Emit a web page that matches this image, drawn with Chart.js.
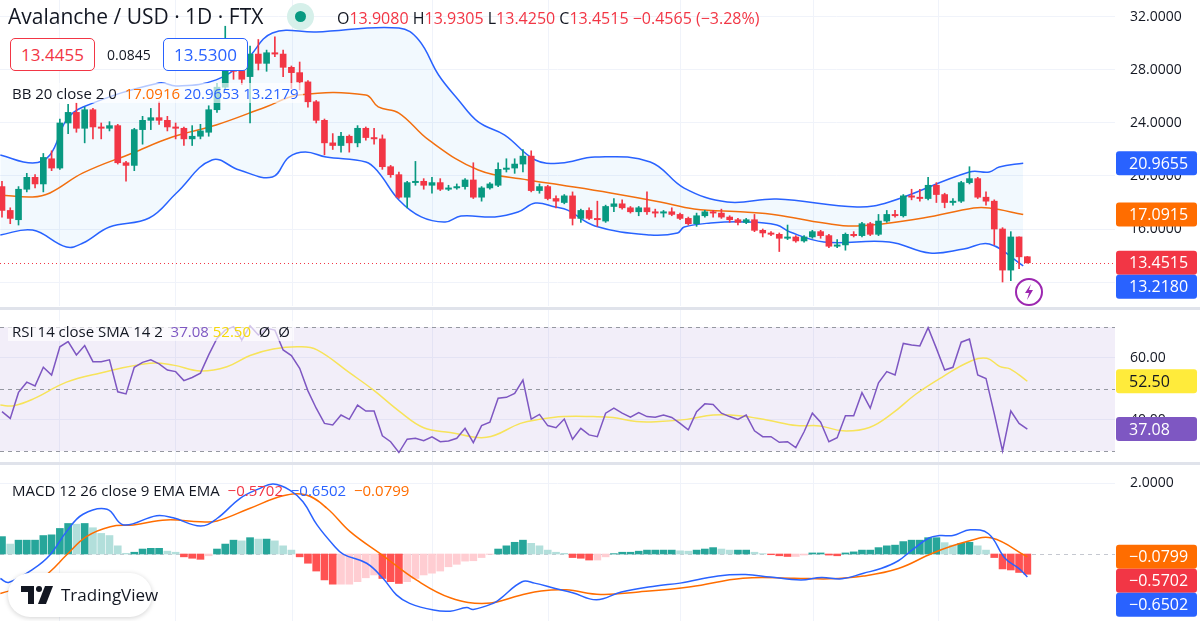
<!DOCTYPE html>
<html>
<head>
<meta charset="utf-8">
<script src="https://cdn.jsdelivr.net/npm/chart.js@4.4.0/dist/chart.umd.min.js"></script>
<style>
  body { margin: 0; width: 1200px; height: 621px; overflow: hidden; background: #fff; font-family: "Open Sans", sans-serif; color: #131722; }
  .pane { position: absolute; left: 0; width: 1200px; }
  .sep { position: absolute; left: 0; width: 1200px; height: 3px; background: #e0e3eb; }
  .legend { position: absolute; font-size: 15px; white-space: nowrap; background: rgba(255,255,255,0.65); padding: 0 4px; }
  .box { position: absolute; height: 31px; line-height: 31px; border-radius: 5px; font-size: 17px; text-align: center; background: #fff; }
</style>
</head>
<body>
<div class="pane" style="top:0;height:306px"><canvas id="price"></canvas></div>
<div class="sep" style="top:307px"></div>
<div class="pane" style="top:310px;height:152px"><canvas id="rsi"></canvas></div>
<div class="sep" style="top:462px"></div>
<div class="pane" style="top:465px;height:156px"><canvas id="macd"></canvas></div>

<div style="position:absolute;left:8px;top:2px;font-size:21px;">Avalanche / USD · 1D · FTX</div>
<div style="position:absolute;left:287px;top:3px;width:27px;height:27px;border-radius:50%;background:#d6f0ea;"></div>
<div style="position:absolute;left:295px;top:11px;width:11px;height:11px;border-radius:50%;background:#089981;"></div>
<div style="position:absolute;left:337px;top:7px;font-size:16px;">O<span style="color:#f23645">13.9080</span> H<span style="color:#f23645">13.9305</span> L<span style="color:#f23645">13.4250</span> C<span style="color:#f23645">13.4515</span> <span style="color:#f23645">−0.4565 (−3.28%)</span></div>
<div class="box" style="left:10px;top:38px;width:83px;border:1px solid #f23645;color:#f23645">13.4455</div>
<div style="position:absolute;left:107px;top:45px;font-size:14px;">0.0845</div>
<div class="box" style="left:163px;top:38px;width:83px;border:1px solid #2962ff;color:#2962ff">13.5300</div>
<div class="legend" style="left:8px;top:83px;">BB 20 close 2 0 &nbsp;<span style="color:#ff6d00">17.0916</span> <span style="color:#2962ff">20.9653</span> <span style="color:#2962ff">13.2179</span></div>
<div class="legend" style="left:8px;top:321px;">RSI 14 close SMA 14 2 &nbsp;<span style="color:#7e57c2">37.08</span> <span style="color:#f5d90a">52.50</span> &nbsp;Ø&nbsp; Ø</div>
<div class="legend" style="left:8px;top:480px;background:none">MACD 12 26 close 9 EMA EMA &nbsp;<span style="color:#f23645">−0.5702</span> &nbsp;<span style="color:#2962ff">−0.6502</span> &nbsp;<span style="color:#ff6d00">−0.0799</span></div>
<div style="position:absolute;left:1015px;top:278px;width:24px;height:24px;border:2px solid #9c27b0;border-radius:50%;">
  <svg width="24" height="24" viewBox="0 0 24 24"><path d="M14 4 L8 13 H12 L10 20 L16 10 H12 Z" fill="#9c27b0"/></svg>
</div>
<div style="position:absolute;left:8px;top:573px;width:144px;height:44px;border-radius:22px;background:#fff;box-shadow:0 1px 5px rgba(0,0,0,0.18);">
  <svg style="position:absolute;left:13px;top:13px" width="34" height="18" viewBox="0 0 34 18"><path d="M0 0 H13 V18 H7 V6 H0 Z" fill="#131722"/><circle cx="18" cy="3" r="3" fill="#131722"/><path d="M24 0 H32 L25 18 H17 Z" fill="#131722"/></svg>
  <span style="position:absolute;left:53px;top:10px;font-size:17px;">TradingView</span>
</div>

<script>
// candles, one per day (index 0..124)
const opens = [
  19.2,17.4,16.7,19.0,19.9,19.4,21.3,20.6,24.0,24.8,
  23.6,25.0,23.7,23.6,23.8,21.0,20.8,23.5,24.2,24.4,
  24.2,23.7,23.6,22.8,23.0,23.3,25.0,26.7,28.3,28.0,
  27.5,29.2,28.5,29.3,29.2,28.2,27.8,27.1,25.6,24.2,
  22.5,22.3,23.0,22.5,23.6,22.9,22.8,20.7,20.1,18.4,
  19.5,19.6,19.3,19.5,19.0,19.1,19.2,19.7,18.4,19.1,
  19.3,20.5,20.6,20.9,21.5,18.9,19.2,18.3,18.0,18.5,
  16.8,17.4,16.8,16.6,17.7,17.9,17.6,17.3,17.6,17.3,
  17.2,17.3,17.1,16.8,16.4,17.0,17.3,17.2,16.9,16.7,
  16.5,16.7,15.9,15.7,15.6,15.3,15.4,15.1,15.4,15.8,
  15.5,14.7,14.8,15.6,15.5,16.4,15.6,16.6,17.1,17.0,
  18.5,18.4,18.3,19.3,18.6,18.0,18.1,19.5,19.8,18.4,
  18.1,16.0,12.9,15.4,13.908];
const highs = [
  19.6,17.6,19.2,20.2,20.1,21.7,21.9,24.3,25.4,25.5,
  25.2,25.1,24.0,24.1,23.9,21.1,23.6,24.5,25.1,25.6,
  24.5,24.0,23.7,23.8,23.9,25.3,27.0,31.3,28.5,28.7,
  29.8,30.3,29.5,30.5,29.5,28.3,28.6,27.2,25.7,24.3,
  23.2,23.3,23.1,23.8,23.7,23.6,23.1,20.8,20.3,19.6,
  21.1,19.8,19.9,19.8,19.3,19.4,19.8,21.0,19.2,19.5,
  21.0,21.3,21.3,22.0,21.9,19.4,19.3,18.5,18.6,18.8,
  17.5,17.6,18.1,17.8,18.3,18.2,17.7,17.7,18.8,17.5,
  17.4,17.6,17.2,16.9,17.2,17.4,17.4,17.5,17.0,16.8,
  16.8,17.1,16.0,15.8,15.7,16.3,15.5,15.5,15.9,15.9,
  15.6,15.2,15.7,15.8,16.5,16.5,17.1,17.4,17.4,18.6,
  19.0,19.0,19.9,19.5,18.7,18.3,19.6,20.7,19.9,18.8,
  18.2,16.1,15.8,15.4,13.9305];
const lows = [
  16.9,16.4,16.3,18.8,19.1,18.8,20.4,20.5,23.2,23.3,
  22.5,22.8,22.8,23.4,20.9,19.6,20.4,22.4,23.5,23.9,
  23.4,22.8,22.3,22.3,22.8,23.0,24.8,26.5,27.3,26.9,
  24.0,28.0,27.9,29.0,27.5,26.6,26.5,25.2,24.0,21.6,
  22.0,21.8,21.8,22.2,22.7,22.4,20.5,19.9,18.3,17.6,
  19.3,19.0,18.7,18.9,18.9,19.0,19.0,18.3,18.1,19.0,
  19.2,20.3,20.2,20.3,18.8,18.7,18.2,17.6,17.9,16.3,
  16.5,16.7,16.2,16.5,17.3,17.5,17.2,17.0,17.1,16.9,
  16.9,17.0,16.7,16.3,16.2,16.9,16.9,16.8,16.5,16.3,
  16.4,15.8,15.4,15.5,14.3,15.2,15.0,15.0,15.3,15.3,
  14.6,14.6,14.4,15.4,15.4,15.5,15.5,16.5,16.9,16.9,
  18.2,18.1,18.2,18.0,17.6,17.8,18.0,19.4,18.3,17.8,
  14.8,12.0,12.1,13.0,13.425];
const closes = [
  17.4,16.8,19.0,19.9,19.4,21.4,20.6,24.0,24.8,23.6,
  25.0,23.7,23.6,23.8,21.0,20.8,23.5,24.2,24.4,24.2,
  23.7,23.6,22.8,23.0,23.4,25.0,26.7,28.6,27.9,27.3,
  29.2,28.5,29.3,29.2,28.2,27.8,27.1,25.6,24.2,22.5,
  22.3,23.0,22.5,23.6,22.9,22.8,20.7,20.1,18.4,19.5,
  19.6,19.3,19.5,19.0,19.1,19.2,19.7,18.4,19.1,19.4,
  20.5,20.6,20.9,21.5,18.9,19.2,18.3,18.1,18.5,16.8,
  17.4,16.8,16.7,17.7,17.9,17.6,17.3,17.6,17.3,17.2,
  17.3,17.1,16.8,16.4,17.0,17.3,17.2,16.9,16.7,16.5,
  16.7,15.9,15.7,15.6,15.3,15.4,15.1,15.4,15.8,15.5,
  14.7,14.8,15.6,15.5,16.4,15.6,16.6,17.1,17.0,18.5,
  18.4,18.3,19.3,18.6,18.0,18.1,19.5,19.8,18.4,18.1,
  16.0,12.9,15.4,13.9,13.4515];

// Bollinger bands, read at sample days
const bbUpperX = [-0.2,3.7,5.8,7.8,9.8,19,21.1,25.9,29.5,32.7,38,48,50.4,52.8,55.2,57.6,60.8,64.5,67.6,71.7,78.4,82.5,87.7,93.7,103.4,107.3,117,119.4,120.6,123.5];
const bbUpper  = [21.58,20.98,21.58,24.23,25.21,27.02,26.79,27.25,28.75,30.79,30.87,31.17,30.26,27.62,25.74,24.08,23.09,21.21,20.98,21.43,21.06,19.09,18.04,18.26,17.66,18.04,20.3,20.3,20.68,20.97];
const bbMidX = [-0.2,3.7,5.8,9.8,15.8,20.6,25.9,31.9,35.9,44,45.5,48,51.6,57.6,63.6,67.6,73.6,79.6,83.7,89.8,93.7,99.4,103.4,111.4,117.5,119.4,123.5];
const bbMid  = [18.57,18.42,18.72,20.23,21.74,22.94,23.85,25.21,26.11,26.11,25.21,24.75,22.72,20.45,19.7,19.32,18.72,18.04,17.51,17.28,17.06,16.45,16.23,16.83,17.58,17.58,17.09];
const bbLowerX = [-0.2,3.7,7.8,9.8,13,17.8,21.1,25.4,28.7,32.7,34.7,36.7,39.2,44,45.5,48,50.7,53.6,55.5,59.6,62.4,64.5,66.9,68.4,71.7,78.4,81.7,82.5,85.7,89.8,93.7,95.3,99.4,107.3,112.2,116.3,119.4,123.5];
const bbLower  = [15.55,15.92,14.64,14.94,16.15,16.83,18.72,21.21,20.45,19.92,21.43,21.81,21.43,21.06,20.3,18.19,16.91,16.53,16.98,16.91,17.28,17.96,17.66,17.43,16.23,15.55,15.7,16.15,16.45,16.53,16.3,15.77,15.02,15.02,14.19,14.49,14.87,13.22];

// RSI 14 per day, and its SMA at sample days
const rsi = [
  42.7,40.5,48.9,52.2,51.0,57.0,54.5,63.6,65.3,61.0,
  64.0,58.8,58.8,59.4,49.1,48.4,57.0,58.6,59.4,58.1,
  56.1,55.6,52.7,53.7,55.1,61.0,66.3,69.0,70.1,65.8,
  70.4,67.4,69.6,69.0,62.6,60.8,56.7,49.4,43.8,38.9,
  38.4,41.6,40.2,44.8,42.9,42.9,34.9,33.0,29.5,33.8,
  34.1,33.3,34.6,33.0,33.2,34.1,37.3,32.7,38.2,39.3,
  47.0,47.3,48.6,52.9,40.3,41.8,38.2,37.5,40.3,33.8,
  37.3,35.2,34.6,42.2,43.8,42.2,40.9,42.4,41.1,40.9,
  41.6,40.8,38.9,36.8,42.7,45.2,45.0,42.2,41.1,40.2,
  41.6,36.5,34.6,34.6,32.8,33.0,31.1,36.2,42.2,39.3,
  33.0,34.3,41.4,41.4,48.8,43.8,52.0,55.6,54.5,64.7,
  64.2,63.9,69.8,63.1,56.1,57.0,65.1,66.1,54.5,53.4,
  42.0,30.0,42.9,38.9,37.08];
const rsiSmaX = [-0.2,1.4,3.8,7.8,11.8,17.9,20.7,24,27.2,30,32.8,36,38.1,42.1,44.9,48.1,51,54.2,58.6,62.7,65,67.9,71.5,73.9,76.7,79.5,82.8,86,89.2,92.5,96.1,98.9,101.7,104.9,107.7,110.5,113.8,117,119.1,120.7,121.9,124];
const rsiSma  = [44.8,44.6,46.8,52.2,55.1,58.3,57.7,55.8,57.2,60.8,62.9,63.6,62.6,55.1,49.7,42.7,37.5,36.0,34.4,38.9,40.2,41.1,41.1,40.8,39.5,39.5,40.2,41.6,41.4,40.0,38.2,38.1,36.5,37.6,42.2,48.3,54.0,58.8,59.9,57.2,56.5,52.5];

// MACD histogram per day, MACD and signal lines at sample days
const macdHist = [
  0.49,0.28,0.39,0.39,0.39,0.52,0.54,0.72,0.86,0.84,
  0.86,0.74,0.58,0.52,0.23,0.02,0.05,0.14,0.16,0.16,
  0.08,0.05,-0.08,-0.12,-0.15,-0.05,0.14,0.28,0.39,0.37,
  0.46,0.42,0.42,0.37,0.23,0.11,-0.08,-0.26,-0.48,-0.73,
  -0.85,-0.85,-0.85,-0.78,-0.67,-0.59,-0.69,-0.78,-0.83,-0.78,
  -0.69,-0.59,-0.54,-0.48,-0.36,-0.29,-0.20,-0.19,-0.10,-0.01,
  0.14,0.23,0.33,0.39,0.30,0.23,0.11,0.05,0.02,-0.10,
  -0.12,-0.17,-0.17,-0.08,0.01,0.05,0.05,0.08,0.11,0.11,
  0.11,0.11,0.09,0.08,0.11,0.14,0.18,0.14,0.11,0.11,
  0.11,0.05,0.01,-0.02,-0.05,-0.07,-0.07,-0.03,0.03,0.03,
  -0.03,-0.05,0.03,0.06,0.11,0.11,0.18,0.23,0.25,0.35,
  0.39,0.39,0.46,0.46,0.32,0.25,0.30,0.33,0.23,0.11,
  -0.10,-0.42,-0.45,-0.52,-0.5702];
const macdX = [-0.2,0.8,3.8,5.8,7.8,9.8,12.7,14.7,18.7,20.7,24,26,28.8,31.2,32.8,34.8,36.4,38.1,40.1,41.3,44.1,46.1,47.7,49.3,52.2,54.2,56.2,57,59.4,60.2,62.9,64.4,66.9,69,71.9,74.9,79.1,82,86.6,89.9,92.9,96.6,99.1,101.6,104.2,106.3,108.4,110,112.1,113.4,115,117.1,119.3,121.3,123,124];
const macdLine = [-0.69,-0.8,-0.42,-0.03,0.63,1.12,1.26,0.82,1.08,1.02,0.79,1.0,1.57,1.85,1.97,1.8,1.47,0.82,0.25,-0.01,-0.26,-0.69,-1.15,-1.39,-1.58,-1.61,-1.51,-1.56,-1.39,-1.27,-0.78,-0.82,-0.97,-1.09,-1.29,-1.07,-0.9,-0.82,-0.62,-0.58,-0.65,-0.73,-0.66,-0.7,-0.54,-0.41,-0.19,0.1,0.45,0.52,0.52,0.68,0.57,-0.12,-0.41,-0.6502];
const signalX = [-0.2,3.8,5.8,7.8,10.2,13.1,15.9,19.9,24,26,30,34,36.8,39.3,42.1,46.1,50.1,54.2,58.6,62.7,65.2,68.2,72.4,77,83.3,89.6,95.8,100,104.2,108.4,112.6,116.7,119.7,124];
const signalLine = [-1.11,-0.83,-0.5,-0.03,0.49,0.77,0.82,0.96,0.91,0.93,1.29,1.64,1.66,1.29,0.63,-0.05,-0.73,-1.23,-1.39,-1.16,-1.04,-1.01,-1.14,-1.07,-0.92,-0.68,-0.68,-0.7,-0.62,-0.41,0.03,0.35,0.45,-0.0799];

// day indices where the time grid lines fall
const gridDays = [6.9, 20.9, 35.1, 52, 66, 82, 98.1, 113.2];

const GREEN = "#089981", RED = "#f23645", BLUE = "#2962ff", ORANGE = "#ff6d00";
const LABEL_FONT = "14px 'Open Sans', sans-serif";

const pts = (xs, ys) => xs.map((x, i) => ({ x: x, y: ys[i] }));
const perDay = (ys) => ys.map((y, i) => ({ x: i, y: y }));

// grid, guide lines, axis labels and coloured value tags
const tagPlugin = {
  id: "tags",
  beforeDatasetsDraw(chart) {
    const o = chart.options.plugins.tags;
    const ctx = chart.ctx, a = chart.chartArea, y = chart.scales.y, x = chart.scales.x;
    ctx.save();
    ctx.strokeStyle = "#f0f3fa";
    ctx.lineWidth = 1;
    gridDays.forEach((d) => {
      const px = Math.round(x.getPixelForValue(d)) + 0.5;
      ctx.beginPath(); ctx.moveTo(px, a.top); ctx.lineTo(px, a.bottom); ctx.stroke();
    });
    if (o.band) {
      ctx.fillStyle = "rgba(126,87,194,0.1)";
      const t = y.getPixelForValue(o.band[0]), b = y.getPixelForValue(o.band[1]);
      ctx.fillRect(a.left, t, a.right - a.left, b - t);
    }
    (o.dashed || []).forEach((v) => {
      ctx.strokeStyle = o.dashColor || "#9598a1";
      ctx.setLineDash(o.dash || [4, 4]);
      const py = Math.round(y.getPixelForValue(v)) + 0.5;
      ctx.beginPath(); ctx.moveTo(a.left, py); ctx.lineTo(a.right, py); ctx.stroke();
    });
    ctx.restore();
  },
  afterDraw(chart) {
    const o = chart.options.plugins.tags;
    const ctx = chart.ctx, a = chart.chartArea, y = chart.scales.y;
    ctx.save();
    ctx.font = LABEL_FONT;
    ctx.fillStyle = "#131722";
    ctx.textBaseline = "middle";
    o.labels.forEach((v) => ctx.fillText(v.toFixed(o.decimals), a.right + 15, y.getPixelForValue(v)));
    const h = 24;
    let last = -1e9;
    const list = o.list.map((t) => ({ value: t.value, text: t.text, bg: t.bg, fg: t.fg, py: y.getPixelForValue(t.value) })).sort((p, q) => p.py - q.py);
    list.forEach((t) => {
      const c = Math.max(t.py, last + h);
      last = c;
      ctx.fillStyle = t.bg;
      ctx.beginPath();
      ctx.roundRect(a.right + 1, c - h / 2, 81, h, 3);
      ctx.fill();
      ctx.fillStyle = t.fg || "#fff";
      ctx.font = "16px 'Open Sans', sans-serif";
      ctx.fillText(t.text, a.right + 14, c + 1);
    });
    ctx.restore();
  },
};

function xScale() {
  return { type: "linear", min: -0.24, max: 134.6, offset: false, display: false };
}
function yScale(min, max, ticks) {
  return {
    type: "linear", position: "right", min: min, max: max,
    afterBuildTicks: (s) => { s.ticks = ticks.map((v) => ({ value: v })); },
    afterFit: (s) => { s.width = 85; },
    ticks: { display: false },
    grid: { color: "#f0f3fa", drawTicks: false },
    border: { display: false },
  };
}
const base = {
  responsive: true, maintainAspectRatio: false, animation: false,
  layout: { padding: 0 },
  elements: { point: { radius: 0 } },
};

new Chart(document.getElementById("price"), {
  data: {
    datasets: [
      { type: "bar", data: opens.map((o, i) => ({ x: i, y: [o, closes[i]] })), backgroundColor: opens.map((o, i) => closes[i] >= o ? GREEN : RED), barThickness: 6, minBarLength: 1, grouped: false, order: 0 },
      { type: "bar", data: lows.map((l, i) => ({ x: i, y: [l, highs[i]] })), backgroundColor: opens.map((o, i) => closes[i] >= o ? GREEN : RED), barThickness: 1, grouped: false, order: 1 },
      { type: "line", data: pts(bbUpperX, bbUpper), borderColor: BLUE, borderWidth: 1.5, tension: 0.4, fill: { target: 4 }, backgroundColor: "rgba(33,150,243,0.06)", order: 2 },
      { type: "line", data: pts(bbMidX, bbMid), borderColor: ORANGE, borderWidth: 1.5, tension: 0.4, fill: false, order: 3 },
      { type: "line", data: pts(bbLowerX, bbLower), borderColor: BLUE, borderWidth: 1.5, tension: 0.4, fill: false, order: 4 },
    ],
  },
  options: {
    ...base,
    scales: { x: xScale(), y: yScale(10.19, 33.28, [12, 16, 20, 24, 28, 32]) },
    plugins: {
      legend: { display: false }, tooltip: { enabled: false },
      tags: {
        labels: [16, 20, 24, 28, 32], decimals: 4,
        dashed: [closes[124]], dashColor: RED, dash: [1, 3],
        list: [
          { value: bbUpper[bbUpper.length - 1], text: "20.9655", bg: BLUE },
          { value: bbMid[bbMid.length - 1], text: "17.0915", bg: ORANGE },
          { value: closes[124], text: "13.4515", bg: RED },
          { value: bbLower[bbLower.length - 1], text: "13.2180", bg: BLUE },
        ],
      },
    },
  },
  plugins: [tagPlugin],
});

new Chart(document.getElementById("rsi"), {
  data: {
    datasets: [
      { type: "line", data: perDay(rsi), borderColor: "#7e57c2", borderWidth: 1.5, tension: 0 },
      { type: "line", data: pts(rsiSmaX, rsiSma), borderColor: "#f7e35a", borderWidth: 1.5, tension: 0.4 },
    ],
  },
  options: {
    ...base,
    scales: { x: xScale(), y: yScale(26.45, 75.48, [40, 60]) },
    plugins: {
      legend: { display: false }, tooltip: { enabled: false },
      tags: {
        labels: [40, 60], decimals: 2,
        band: [70, 30], dashed: [70, 50, 30],
        list: [
          { value: rsiSma[rsiSma.length - 1], text: "52.50", bg: "#ffeb3b", fg: "#131722" },
          { value: rsi[124], text: "37.08", bg: "#7e57c2" },
        ],
      },
    },
  },
  plugins: [tagPlugin],
});

new Chart(document.getElementById("macd"), {
  data: {
    datasets: [
      { type: "bar", data: perDay(macdHist), grouped: false, barThickness: 7, order: 2,
        backgroundColor: macdHist.map((h, i) => {
          const p = i > 0 ? macdHist[i - 1] : h;
          if (h >= 0) return h >= p ? "#26a69a" : "#b2dfdb";
          return h < p ? "#ff5252" : "#ffcdd2";
        }) },
      { type: "line", data: pts(macdX, macdLine), borderColor: BLUE, borderWidth: 1.5, tension: 0.4, order: 0 },
      { type: "line", data: pts(signalX, signalLine), borderColor: ORANGE, borderWidth: 1.5, tension: 0.4, order: 1 },
    ],
  },
  options: {
    ...base,
    scales: { x: xScale(), y: yScale(-1.887, 2.507, [2]) },
    plugins: {
      legend: { display: false }, tooltip: { enabled: false },
      tags: {
        labels: [2], decimals: 4,
        dashed: [0], dashColor: "#c5c8d0",
        list: [
          { value: signalLine[signalLine.length - 1], text: "−0.0799", bg: ORANGE },
          { value: macdHist[124], text: "−0.5702", bg: RED },
          { value: macdLine[macdLine.length - 1], text: "−0.6502", bg: BLUE },
        ],
      },
    },
  },
  plugins: [tagPlugin],
});
</script>
</body>
</html>
